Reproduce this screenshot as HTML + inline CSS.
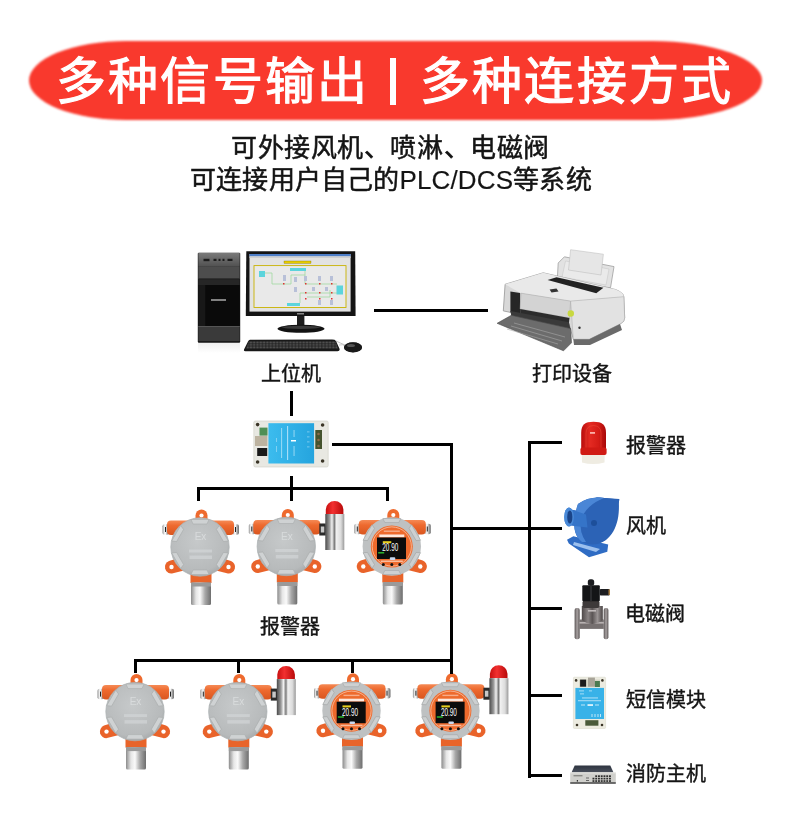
<!DOCTYPE html>
<html lang="zh-CN">
<head>
<meta charset="utf-8">
<style>
html,body{margin:0;padding:0;background:#fff;}
body{width:790px;height:817px;position:relative;overflow:hidden;font-family:"Liberation Sans",sans-serif;color:#1c1c1c;}
.banner{position:absolute;left:29px;top:40.5px;width:733px;height:79.5px;background:#f9392d;border-radius:98px 110px 110px 98px/39.75px;filter:blur(0.9px);}
.title{position:absolute;left:0;top:41px;width:790px;height:78px;line-height:78px;color:#fff;font-size:50px;font-weight:400;letter-spacing:2.2px;-webkit-text-stroke:1.15px #fff;white-space:nowrap;}
.t{position:absolute;white-space:nowrap;line-height:1;will-change:transform;}
.sub{font-size:26px;letter-spacing:0.57px;color:#141414;-webkit-text-stroke:0.5px #141414;}
.lbl{font-size:20px;color:#141414;-webkit-text-stroke:0.4px #141414;}
svg{position:absolute;left:0;top:0;}
</style>
</head>
<body>
<div class="banner"></div>
<div class="t title" style="left:56px;top:57px;line-height:1;">多种信号输出</div>
<div style="position:absolute;left:390px;top:57.5px;width:6px;height:47px;background:#fff;"></div>
<div class="t title" style="left:420px;top:57px;line-height:1;">多种连接方式</div>

<div class="t sub" id="s1" style="left:231px;top:135px;">可外接风机、喷淋、电磁阀</div>
<div class="t sub" id="s2" style="left:190px;top:167px;letter-spacing:0.17px;">可连接用户自己的<span style="-webkit-text-stroke:0.15px #141414;">PLC/DCS</span>等系统</div>

<div class="t lbl" id="L1" style="left:261px;top:364px;">上位机</div>
<div class="t lbl" id="L2" style="left:532px;top:364px;">打印设备</div>
<div class="t lbl" id="L3" style="left:260px;top:617px;">报警器</div>
<div class="t lbl" id="L4" style="left:626px;top:436px;">报警器</div>
<div class="t lbl" id="L5" style="left:626px;top:516px;">风机</div>
<div class="t lbl" id="L6" style="left:625px;top:604px;">电磁阀</div>
<div class="t lbl" id="L7" style="left:626px;top:690px;">短信模块</div>
<div class="t lbl" id="L8" style="left:626px;top:764px;">消防主机</div>

<svg width="790" height="817" viewBox="0 0 790 817">
<defs>
<linearGradient id="silH" x1="0" x2="1" y1="0" y2="0">
<stop offset="0" stop-color="#8c8c8c"/><stop offset="0.25" stop-color="#e6e6e6"/><stop offset="0.45" stop-color="#fafafa"/><stop offset="0.7" stop-color="#a8a8a8"/><stop offset="1" stop-color="#6e6e6e"/>
</linearGradient>
<linearGradient id="silA" x1="0" x2="1" y1="0" y2="0"><stop offset="0" stop-color="#4a4a4a"/><stop offset="0.22" stop-color="#9a9a9a"/><stop offset="0.35" stop-color="#f2f2f2"/><stop offset="0.48" stop-color="#7a7a7a"/><stop offset="0.58" stop-color="#f0f0f0"/><stop offset="0.82" stop-color="#dcdcdc"/><stop offset="1" stop-color="#9a9a9a"/></linearGradient>
<linearGradient id="orV" x1="0" x2="0" y1="0" y2="1">
<stop offset="0" stop-color="#f58a55"/><stop offset="0.35" stop-color="#ee6a2f"/><stop offset="1" stop-color="#d9561f"/>
</linearGradient>
<radialGradient id="grayC" cx="0.45" cy="0.4" r="0.65">
<stop offset="0" stop-color="#c6c9ca"/><stop offset="0.8" stop-color="#b7babb"/><stop offset="1" stop-color="#a3a6a7"/>
</radialGradient>
<linearGradient id="redDome" x1="0" x2="1" y1="0" y2="0">
<stop offset="0" stop-color="#c81010"/><stop offset="0.4" stop-color="#f23030"/><stop offset="1" stop-color="#b80a0a"/>
</linearGradient>
<g id="detBase">
  <rect x="-37.5" y="-22.8" width="6.5" height="10.5" rx="2" fill="url(#silH)"/>
  <rect x="-35" y="-20" width="1" height="5" fill="#222"/>
  <rect x="32.5" y="-22.8" width="6.5" height="10.5" rx="2" fill="url(#silH)"/>
  <rect x="35" y="-20" width="1" height="5" fill="#222"/>
  <rect x="-33" y="-26.5" width="67" height="14.5" rx="4" fill="url(#orV)"/>
  <path d="M-4.5,-24 L-4.5,-31.5 A6,6 0 0 1 7.5,-31.5 L7.5,-24 Z" fill="#ee6a2e"/>
  <circle cx="1.5" cy="-31.5" r="2.1" fill="#fff"/>
  <path d="M-18,10 L-31,14 A6.5,6.5 0 0 0 -28,26.5 L-14,23 Z" fill="#e9632a"/>
  <circle cx="-28.5" cy="20" r="2.2" fill="#fff"/>
  <path d="M18,10 L31,14 A6.5,6.5 0 0 1 28,26.5 L14,23 Z" fill="#e9632a"/>
  <circle cx="28.5" cy="20" r="2.2" fill="#fff"/>
  <rect x="-9.5" y="25" width="21" height="11" fill="#e8642a"/>
  <rect x="-9" y="35.5" width="20" height="22.5" rx="1.5" fill="url(#silH)"/>
  <rect x="-9" y="35.5" width="20" height="4" fill="#9a9a9a"/>
</g>
<g id="detEx">
  <use href="#detBase"/>
  <circle r="29.2" fill="url(#grayC)" stroke="#aab0b2" stroke-width="0.7"/>
  <g fill="#cfd2d3" stroke="#a9acad" stroke-width="0.6">
    <path d="M-9,-27.5 L9,-27.5 L7,-23 L-7,-23 Z"/>
    <path d="M-9,-27.5 L9,-27.5 L7,-23 L-7,-23 Z" transform="rotate(60)"/>
    <path d="M-9,-27.5 L9,-27.5 L7,-23 L-7,-23 Z" transform="rotate(120)"/>
    <path d="M-9,-27.5 L9,-27.5 L7,-23 L-7,-23 Z" transform="rotate(180)"/>
    <path d="M-9,-27.5 L9,-27.5 L7,-23 L-7,-23 Z" transform="rotate(240)"/>
    <path d="M-9,-27.5 L9,-27.5 L7,-23 L-7,-23 Z" transform="rotate(300)"/>
  </g>
  <text x="0.5" y="-7" font-size="10" text-anchor="middle" fill="#d8dbdc" font-family="Liberation Sans">Ex</text>
  <rect x="-11" y="2.5" width="23" height="3" fill="#d6d9da" opacity="0.6"/>
  <rect x="-10.5" y="8.5" width="22.5" height="3.5" fill="#d6d9da" opacity="0.6"/>
</g>
<g id="detDisp">
  <use href="#detBase"/>
  <circle r="29.2" fill="#bec1c2"/>
  <g fill="#cdd0d1" stroke="#a3a6a7" stroke-width="0.6">
    <path d="M-9,-28 L9,-28 L7,-24 L-7,-24 Z"/>
    <path d="M-9,-28 L9,-28 L7,-24 L-7,-24 Z" transform="rotate(60)"/>
    <path d="M-9,-28 L9,-28 L7,-24 L-7,-24 Z" transform="rotate(120)"/>
    <path d="M-9,-28 L9,-28 L7,-24 L-7,-24 Z" transform="rotate(180)"/>
    <path d="M-9,-28 L9,-28 L7,-24 L-7,-24 Z" transform="rotate(240)"/>
    <path d="M-9,-28 L9,-28 L7,-24 L-7,-24 Z" transform="rotate(300)"/>
  </g>
  <circle r="21" fill="#ee6a2c"/>
  <circle r="19.6" fill="none" stroke="#fbe0d0" stroke-width="0.6"/>
  <rect x="-8" y="-16" width="16" height="1.4" fill="#fff" opacity="0.45"/><rect x="-12.5" y="-12" width="25" height="2.8" fill="#fff" opacity="0.85"/><rect x="-11" y="14" width="22" height="1.5" fill="#fff" opacity="0.55"/>
  <rect x="-14.8" y="-9" width="29" height="21.5" fill="#0c0c0c"/>
  <text x="-1.5" y="4.8" font-size="11" text-anchor="middle" textLength="16" lengthAdjust="spacingAndGlyphs" fill="#fff" font-family="Liberation Sans">20.90</text>
  <rect x="-9" y="-5.3" width="8.5" height="2" fill="#e8d020"/>
  <rect x="-13.6" y="5.6" width="6" height="1.4" fill="#30c030"/><rect x="-2" y="10.8" width="5.5" height="2.6" rx="1" fill="#c8d8f0"/>
  <circle cx="-8.5" cy="18" r="1.5" fill="#111"/>
  <circle cx="0" cy="18" r="1.5" fill="#111"/>
  <circle cx="8" cy="18" r="1.5" fill="#111"/>
</g>
<g id="alarmS">
  <rect x="33" y="-23" width="6.5" height="12" fill="#2a2a2a"/>
  <rect x="34.5" y="-20" width="3.5" height="6" fill="#c8c8c8"/>
  <path d="M39.5,-32.5 V-37 A8.8,8.5 0 0 1 57.1,-37 V-32.5 Z" fill="url(#redDome)"/>
  <rect x="39" y="-32.5" width="19" height="36" fill="url(#silA)"/>
</g>
</defs>

<!-- computer tower -->
<g id="pc">
<defs>
<linearGradient id="twTop" x1="0" x2="0" y1="0" y2="1"><stop offset="0" stop-color="#7a7a7a"/><stop offset="1" stop-color="#505050"/></linearGradient>
<linearGradient id="twRefl" x1="0" x2="0" y1="0" y2="1"><stop offset="0" stop-color="#e4e4e4"/><stop offset="1" stop-color="#ffffff"/></linearGradient>
</defs>
<rect x="198" y="343" width="42" height="10" fill="url(#twRefl)" opacity="0.6"/>
<rect x="197.8" y="252.7" width="42.4" height="90" rx="1" fill="#121212"/>
<rect x="198.3" y="253" width="41.4" height="13.8" fill="url(#twTop)"/>
<rect x="203.5" y="258.8" width="6" height="2.4" fill="#1c1c1c"/>
<rect x="213.5" y="258.8" width="3" height="2.2" fill="#1c1c1c"/>
<rect x="218.5" y="258.8" width="2" height="2.2" fill="#1c1c1c"/>
<rect x="222.5" y="258.8" width="2" height="2.2" fill="#1c1c1c"/>
<rect x="227.5" y="258.8" width="5" height="2.2" fill="#1c1c1c"/>
<rect x="198.3" y="266.8" width="41.4" height="12.2" fill="#4d4d4d"/>
<rect x="198.3" y="278.2" width="41.4" height="1" fill="#2a2a2a"/>
<rect x="198.3" y="279.2" width="41.4" height="6" fill="#262626"/>
<rect x="198.3" y="285" width="41.4" height="41" fill="#0a0a0a"/>
<rect x="198.3" y="285" width="7" height="41" fill="#181818"/>
<rect x="211" y="299.2" width="15" height="1.6" fill="#a0a0a0"/>
<rect x="198.3" y="326" width="41.4" height="15.2" fill="#3a3a3a"/>
<rect x="198.3" y="326" width="41.4" height="1" fill="#555"/>
<!-- monitor -->
<path d="M246.3,251.3 L355.2,251.3 L355.6,316 L245.8,316 Z" fill="#141414"/>
<rect x="249.5" y="254" width="101.1" height="57.6" fill="#e2e2e2"/>
<rect x="249.5" y="254" width="101.1" height="2.4" fill="#4f7fc8"/>
<rect x="249.5" y="256.4" width="101.1" height="1.6" fill="#cfcfcf"/>
<rect x="254" y="265.6" width="92" height="41.9" fill="#e9e9e9" stroke="#c8b200" stroke-width="0.9"/>
<rect x="284" y="261" width="27" height="2.4" fill="#e6cc00" stroke="#6a5a00" stroke-width="0.3"/>
<g fill="none" stroke="#9ad89a" stroke-width="0.7">
<path d="M262,273 H272 V284 H291 V275 H305"/>
<path d="M305,270 V284 H337"/>
<path d="M300,303 V293 H340"/>
<path d="M307,297 H330 V290"/>
</g>
<g fill="#5cd4dc">
<rect x="259" y="271" width="6" height="6"/>
<rect x="290" y="268" width="16" height="3"/>
<rect x="287" y="303" width="13" height="3"/>
<rect x="336.5" y="285.5" width="6.5" height="9"/>
</g>
<g fill="#e03030">
<rect x="283" y="283" width="1.5" height="1.5"/><rect x="305" y="283" width="1.5" height="1.5"/><rect x="319" y="283" width="1.5" height="1.5"/><rect x="331" y="283" width="1.5" height="1.5"/>
<rect x="319" y="292" width="1.5" height="1.5"/><rect x="331" y="292" width="1.5" height="1.5"/><rect x="305" y="292" width="1.5" height="1.5"/>
<rect x="305" y="298" width="1.5" height="1.5"/><rect x="319" y="298" width="1.5" height="1.5"/><rect x="331" y="298" width="1.5" height="1.5"/>
</g>
<g fill="#b8c0d8">
<rect x="283" y="275" width="3" height="6"/><rect x="294" y="277" width="3" height="5"/><rect x="304" y="276" width="3" height="5"/><rect x="318" y="276" width="3" height="5"/><rect x="330" y="276" width="3" height="5"/>
<rect x="294" y="287" width="3" height="5"/><rect x="312" y="287" width="3" height="4"/><rect x="325" y="287" width="3" height="4"/>
<rect x="318" y="300" width="3" height="5"/><rect x="330" y="300" width="3" height="5"/>
</g>
<rect x="297" y="313" width="7" height="1.5" fill="#888"/>
<rect x="297" y="316" width="7.4" height="12" fill="#1e1e1e"/>
<ellipse cx="301" cy="328.8" rx="23.5" ry="4" fill="#121212"/>
<ellipse cx="301" cy="327.3" rx="19" ry="1.6" fill="#3a3a3a"/>
<!-- keyboard -->
<defs><pattern id="keys" x="246" y="341.2" width="3.3" height="2.5" patternUnits="userSpaceOnUse"><rect x="0.3" y="0.3" width="2.6" height="1.8" fill="#505050"/></pattern></defs>
<path d="M250,339.8 L332,339.6 Q335,339.6 336,341 L339.6,349 Q340,351.3 337.5,351.3 L245.5,351.3 Q243.5,351.3 244,349.5 L248,341.5 Q248.8,339.8 250,339.8 Z" fill="#181818"/>
<path d="M249,341.2 L335.5,341.2 L338,348.7 L246,348.7 Z" fill="url(#keys)"/>
<path d="M336,341 Q340,343 345,345" fill="none" stroke="#9a9a9a" stroke-width="0.6"/>
<ellipse cx="353" cy="347.3" rx="9" ry="5" fill="#161616"/>
<ellipse cx="351.5" cy="345.3" rx="4.5" ry="1.8" fill="#4a4a4a"/>
</g>
<path d="M339,345 Q343,344 345,346" fill="none" stroke="#aaa" stroke-width="0.6"/>
<ellipse cx="353" cy="347.5" rx="9" ry="5" fill="#1a1a1a"/>
<ellipse cx="351" cy="345.5" rx="4" ry="1.6" fill="#555"/>
</g>
<!-- PC-printer line done separately -->
<!-- printer -->
<g id="printer">
<path d="M557.3,280 L558.2,263 L564.4,256.8 L614,266.6 L610.5,287.8 Z" fill="#e2e2e2" stroke="#a0a0a0" stroke-width="0.8"/>
<path d="M562,277 L565.5,261 L609,269 L606,285 Z" fill="#eaeaea" stroke="#c4c4c4" stroke-width="0.5"/>
<path d="M570.6,249.7 L603.4,254.2 L601,275 L568.5,270 Z" fill="#e6e6e6" stroke="#b8b8b8" stroke-width="0.5"/>
<path d="M505.1,284.3 L543.2,272.8 L615.8,289.6 Q623.8,293 623.8,296.7 L624.7,318 Q624.7,322 620,324 L589.2,339.2 L573.3,339.2 L568.9,323.3 L520.1,314.4 L503.3,310.9 Z" fill="#d8d8d8" stroke="#959595" stroke-width="0.8"/>
<path d="M505.1,284.3 L543.2,272.8 L615.8,289.6 Q623.8,293 623.8,296.7 L570.6,301.1 L521,293.2 Z" fill="#e9e9e9"/>
<path d="M570.6,301.1 L623.8,296.7 L624.7,318 Q624.7,322 620,324 L589.2,339.2 L573.3,339.2 Z" fill="#e2e2e2" stroke="#a8a8a8" stroke-width="0.5"/>
<path d="M510.4,291.4 L520.1,293 L520.1,314.4 L510.4,312 Z" fill="#262626"/>
<path d="M521,293.2 L570.6,301.1 L569.5,318 L520.1,309 Z" fill="#d3d3d3" stroke="#a5a5a5" stroke-width="0.5"/>
<path d="M520.1,309 L569.5,318 L568.9,323.3 L520.1,314.4 Z" fill="#2c2c2c"/>
<path d="M547.6,279.9 L556.5,277.2 L603.4,287.8 L596.3,293.2 Z" fill="#222"/>
<path d="M549.6,289.4 L556.5,288.6 L558.5,291.6 L551.5,292.4 Z" fill="#333"/>
<path d="M573.3,339.2 L589.2,339.2 L620,324 L622,330 L590,345 L574,345 Z" fill="#6a6a6a"/>
<path d="M510.4,311 L568.9,322.3 L570.6,329.6 L511.3,316.3 Z" fill="#3a3a3a"/>
<path d="M497.1,323.3 L511.3,315.3 L570.6,328.6 L571.5,342.8 L563.5,350.8 Z" fill="#6c6c6c" stroke="#4a4a4a" stroke-width="0.6"/>
<g stroke="#a8a8a8" stroke-width="0.6" fill="none"><path d="M511,326 L562,341"/><path d="M507,329 L558,344"/><path d="M514,323 L565,337"/></g>
<circle cx="570.8" cy="313.5" r="3.2" fill="#c8d840"/>
<circle cx="579.5" cy="327.7" r="1.2" fill="#333"/>
</g>
<!-- converter -->
<g id="conv">
<rect x="253.8" y="421" width="74.4" height="46" rx="1.5" fill="#e8e8e2" stroke="#cfcfc6" stroke-width="0.6"/>
<defs><linearGradient id="convB" x1="0" x2="1"><stop offset="0" stop-color="#3cbcee"/><stop offset="1" stop-color="#25a4de"/></linearGradient></defs>
<rect x="268.4" y="423.2" width="45.7" height="40.3" fill="url(#convB)"/>
<rect x="287.3" y="426" width="0.8" height="34" fill="#d8f0ff"/>
<g fill="#cdeefc" opacity="0.6">
<rect x="281" y="428" width="1.1" height="30"/>
<rect x="293.5" y="430" width="1.1" height="7"/><rect x="293.5" y="446" width="1.1" height="10"/>
<rect x="276" y="438" width="0.8" height="4"/><rect x="276" y="446" width="0.8" height="6"/>
<rect x="307" y="431.5" width="2.5" height="0.8"/><rect x="307" y="436.5" width="2.5" height="0.8"/><rect x="307" y="441.5" width="2.5" height="0.8"/><rect x="307" y="446.5" width="2.5" height="0.8"/>
</g>
<rect x="291" y="440" width="5" height="1.5" fill="#fff"/>
<rect x="259.5" y="427.6" width="8" height="8" fill="#4f8f55"/>
<rect x="255" y="436" width="12.4" height="10" fill="#bdb3a0"/>
<rect x="257.2" y="448" width="10" height="8" fill="#1a1a1a"/>
<rect x="315.3" y="430" width="6.7" height="19" fill="#44532e"/>
<circle cx="318.5" cy="434" r="1.3" fill="#8a6a4a"/><circle cx="318.5" cy="440" r="1.3" fill="#8a6a4a"/><circle cx="318.5" cy="446" r="1.3" fill="#8a6a4a"/>
<circle cx="257.6" cy="424.6" r="1.8" fill="#3a3426"/>
<circle cx="257.6" cy="462" r="1.8" fill="#3a3426"/>
<circle cx="322.6" cy="425" r="1.8" fill="#3a3426"/>
<circle cx="322.6" cy="461" r="1.8" fill="#3a3426"/>
</g>
<!-- right alarm light -->
<g id="ralarm">
<defs><linearGradient id="rDome2" x1="0" x2="1"><stop offset="0" stop-color="#b80c0c"/><stop offset="0.35" stop-color="#e42a22"/><stop offset="0.7" stop-color="#d41c16"/><stop offset="1" stop-color="#a80808"/></linearGradient></defs>
<path d="M581.8,454 L604.7,454 L604.5,462.5 Q593,465.5 582,462.5 Z" fill="#efece2"/>
<path d="M581.2,450 V433 C581.2,424.5 585,421.7 593.5,421.7 C602,421.7 606,424.5 606,433 V450 Z" fill="url(#rDome2)"/>
<path d="M586,448 V433 Q586,426 593.5,425.5 Q601,426 601,433 V448" fill="none" stroke="#f05a40" stroke-width="0.7" opacity="0.6"/>
<rect x="580.4" y="447.5" width="26.2" height="7.5" rx="2" fill="#d01a14"/>
<rect x="590" y="432" width="5" height="1.8" fill="#ffc8c0" opacity="0.85"/>
</g>
<!-- fan -->
<g id="fan">
<path d="M567,539.8 L573.4,536.2 L608.2,544.4 L607.3,551.8 L589,557.3 L568.8,543.5 Z" fill="#2f6cc4"/>
<path d="M574,542 L600,549 L596,552 L573,545 Z" fill="#9cc0ee"/>
<path d="M586,500.5 L597,497.6 L619.3,499 L618.8,503 C620,521 614,540 597,543.5 C583,545.5 574.5,535 575,521.5 C575.5,510 580,503.5 586,500.5 Z" fill="#2d63b5"/>
<path d="M586,500.5 L597,497.6 L600,498 Q588,506 585.5,520 Q584.5,534 592,544 C581,544 574.5,534 575,521.5 C575.5,510 580,503.5 586,500.5 Z" fill="#4b84d4"/>
<circle cx="598" cy="521" r="14" fill="none" stroke="#2a5aa8" stroke-width="0.6"/>
<circle cx="596" cy="521" r="2.2" fill="#1d4f9a"/>
<path d="M570,509.5 L589,512.3 L589,525.2 L570,525 Z" fill="#3675c8"/>
<ellipse cx="569" cy="517" rx="4.8" ry="9.5" fill="#4d8bd8"/>
<ellipse cx="569.8" cy="517" rx="2.6" ry="6.6" fill="#1a4488"/>
</g>
<path d="M578,504 Q588,497 600,497.6 L619.3,499.4 L618.5,504 Q617,530 606,540 Q594,548 582,542 Q572,534 575,518 Q576,509 578,504 Z" fill="#2c63b6"/>
<path d="M578,504 Q588,497 600,497.6 L604,498 Q586,505 581,520 Q579,532 586,542 L582,542 Q572,534 575,518 Q576,509 578,504 Z" fill="#4a86d6"/>
<circle cx="594" cy="523" r="3" fill="#1d4f9a"/>
<path d="M570,509 L586,514.5 L587.5,527.5 L570,525.5 Z" fill="#3574c8"/>
<ellipse cx="569" cy="517" rx="4.8" ry="9.5" fill="#4a8ad8"/>
<ellipse cx="569.8" cy="517" rx="2.6" ry="6.6" fill="#1a4488"/>
</g>
<!-- valve -->
<g id="valve">
<defs>
<linearGradient id="vMetal" x1="0" x2="1"><stop offset="0" stop-color="#4e4848"/><stop offset="0.3" stop-color="#8a8484"/><stop offset="0.5" stop-color="#5a5454"/><stop offset="0.75" stop-color="#9a9494"/><stop offset="1" stop-color="#4a4444"/></linearGradient>
<linearGradient id="vFl" x1="0" x2="1"><stop offset="0" stop-color="#5a5454"/><stop offset="0.5" stop-color="#a8a2a2"/><stop offset="1" stop-color="#5a5454"/></linearGradient>
</defs>
<rect x="574.6" y="608" width="5.1" height="31.2" rx="2" fill="url(#vFl)"/>
<rect x="603.7" y="608" width="4.7" height="31.2" rx="2" fill="url(#vFl)"/>
<rect x="579.5" y="619.5" width="24.3" height="9.4" fill="#767070"/>
<rect x="579.5" y="622" width="24.3" height="1.6" fill="#b8b2b2"/>
<path d="M581.8,606 L602.8,606 L602.8,620 Q592,628 581.8,620 Z" fill="url(#vMetal)"/>
<rect x="582.5" y="600.5" width="17" height="7.5" rx="2" fill="#3e3a3a"/>
<rect x="582.3" y="585.3" width="17.5" height="16" rx="1" fill="#141517"/>
<rect x="590" y="586" width="2" height="15" fill="#2a2b2e"/>
<rect x="587.8" y="579.3" width="6.4" height="6.5" rx="2.5" fill="#1c1d20"/>
<rect x="599.8" y="589.1" width="9.9" height="6.4" rx="1" fill="#1c1d20"/>
<rect x="608.5" y="589.5" width="1.4" height="5.5" fill="#b08040"/>
<rect x="588" y="610" width="8" height="1.6" fill="#c0baba"/>
</g>
<!-- SMS module -->
<g id="sms">
<rect x="573.4" y="677.2" width="32.2" height="51.3" rx="1" fill="#ecebe0" stroke="#d6d5c6" stroke-width="0.5"/>
<rect x="579" y="679.5" width="21" height="7.5" fill="#d8d8c8"/>
<rect x="580.1" y="679.6" width="6" height="7.1" fill="#1c1c1c"/>
<rect x="588" y="677.6" width="6.9" height="9.1" fill="#a8a498"/>
<rect x="594.9" y="681" width="5" height="6" fill="#4a7a50"/>
<rect x="575.4" y="687.9" width="28.6" height="31.1" fill="#38b2e8"/>
<g fill="#d6f0fc" opacity="0.85">
<rect x="579" y="690.5" width="5" height="0.8"/><rect x="589" y="690.5" width="3" height="0.8"/><rect x="580" y="693.5" width="4" height="0.8"/>
<rect x="582" y="697.5" width="16" height="0.9"/>
<rect x="578" y="700.3" width="23" height="0.9"/>
<rect x="581" y="704.5" width="4" height="1"/><rect x="595" y="704.5" width="4" height="1"/>
<rect x="591.5" y="714" width="1" height="3"/><rect x="594.5" y="714" width="1" height="3"/><rect x="597.5" y="714" width="1" height="3"/><rect x="600" y="714" width="1" height="3"/>
</g>
<rect x="587.5" y="704.3" width="5.5" height="1.5" fill="#fff"/>
<rect x="585.3" y="720.2" width="13.1" height="5.5" fill="#4a5a3a"/>
<circle cx="576.1" cy="680.4" r="1.3" fill="#3a3426"/><circle cx="602.4" cy="680.4" r="1.3" fill="#3a3426"/>
<circle cx="577" cy="725" r="1.3" fill="#3a3426"/><circle cx="602" cy="725" r="1.3" fill="#3a3426"/>
</g>
<!-- fire host -->
<g id="fire">
<defs><linearGradient id="fhTop" x1="0" x2="0" y1="0" y2="1"><stop offset="0" stop-color="#2e3440"/><stop offset="1" stop-color="#4a505c"/></linearGradient></defs>
<path d="M574.7,765.6 L610.3,765.6 L613.5,772.5 L571.5,772.5 Z" fill="url(#fhTop)"/>
<rect x="570.2" y="772.5" width="45.6" height="10" fill="#d0d0cc"/>
<rect x="570.2" y="772.5" width="45.6" height="0.8" fill="#eeeeea"/>
<rect x="570.2" y="782.3" width="45.6" height="1.4" fill="#333"/>
<g fill="#2e2e2e"><rect x="592.50" y="777.75" width="1.9" height="1.7"/><rect x="592.50" y="780.20" width="1.9" height="1.7"/><rect x="595.25" y="775.30" width="1.9" height="1.7"/><rect x="595.25" y="777.75" width="1.9" height="1.7"/><rect x="595.25" y="780.20" width="1.9" height="1.7"/><rect x="598.00" y="775.30" width="1.9" height="1.7"/><rect x="598.00" y="777.75" width="1.9" height="1.7"/><rect x="598.00" y="780.20" width="1.9" height="1.7"/><rect x="600.75" y="775.30" width="1.9" height="1.7"/><rect x="600.75" y="777.75" width="1.9" height="1.7"/><rect x="600.75" y="780.20" width="1.9" height="1.7"/><rect x="603.50" y="775.30" width="1.9" height="1.7"/><rect x="603.50" y="777.75" width="1.9" height="1.7"/><rect x="603.50" y="780.20" width="1.9" height="1.7"/><rect x="606.25" y="775.30" width="1.9" height="1.7"/><rect x="606.25" y="777.75" width="1.9" height="1.7"/><rect x="606.25" y="780.20" width="1.9" height="1.7"/><rect x="609.00" y="775.30" width="1.9" height="1.7"/><rect x="609.00" y="777.75" width="1.9" height="1.7"/><rect x="609.00" y="780.20" width="1.9" height="1.7"/></g>
<rect x="573.5" y="775" width="9" height="1.4" fill="#8a8a86"/>
<rect x="576.8" y="780" width="1.2" height="1.6" fill="#333"/>
<rect x="586" y="777.5" width="3" height="1" fill="#666"/><rect x="586" y="780" width="3" height="1" fill="#666"/>
</g>

<!-- detectors top row -->
<use href="#detEx" transform="translate(200,547)"/>
<use href="#detEx" transform="translate(286.3,546.5)"/>
<use href="#alarmS" transform="translate(286.3,546.5)"/>
<use href="#detDisp" transform="translate(391.8,546.5)"/>
<!-- bottom row -->
<use href="#detEx" transform="translate(135,711.6)"/>
<use href="#detEx" transform="translate(237.8,711.6)"/>
<use href="#alarmS" transform="translate(237.8,711.6)"/>
<use href="#detDisp" transform="translate(351.5,710.7)"/>
<use href="#detDisp" transform="translate(450.4,710.7)"/>
<use href="#alarmS" transform="translate(450.4,710.7)"/>

<g fill="#000">
<!-- PC to printer -->
<rect x="374" y="309" width="114" height="3"/>
<!-- under PC -->
<rect x="290" y="391" width="3" height="25"/>
<!-- under converter -->
<rect x="290" y="476" width="3" height="25"/>
<rect x="197" y="487" width="192" height="3"/>
<rect x="197" y="487" width="3" height="14"/>
<rect x="386" y="487" width="3" height="14"/>
<!-- converter to main bus -->
<rect x="332" y="443" width="121" height="3"/>
<rect x="450" y="443" width="3" height="231"/>
<!-- main bus to right bus -->
<rect x="453" y="527" width="109" height="3"/>
<!-- right bus -->
<rect x="528" y="441" width="3" height="337"/>
<rect x="528" y="441" width="34" height="3"/>
<rect x="528" y="607" width="34" height="3"/>
<rect x="528" y="694" width="34" height="3"/>
<rect x="528" y="774" width="34" height="3"/>
<!-- bottom row -->
<rect x="134" y="659" width="319" height="3"/>
<rect x="134" y="659" width="3" height="14"/>
<rect x="237" y="659" width="3" height="14"/>
<rect x="351" y="659" width="3" height="14"/>
</g>
</svg>
</body>
</html>
